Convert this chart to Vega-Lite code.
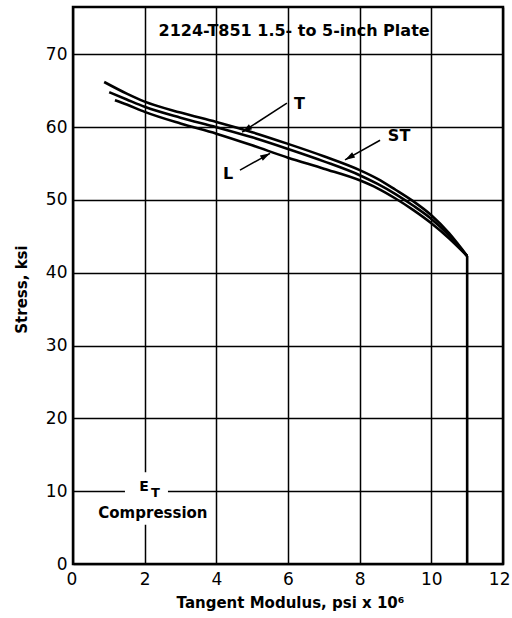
{
  "$schema": "https://vega.github.io/schema/vega-lite/v6.json",
  "width": 430,
  "height": 557,
  "autosize": {"type": "none"},
  "padding": {"left": 73, "top": 7, "right": 9, "bottom": 54},
  "background": "white",
  "config": {
    "view": {"stroke": "black", "strokeWidth": 2.5},
    "text": {"font": "DejaVu Sans", "fontWeight": "bold", "color": "black"},
    "axis": {
      "grid": true, "gridColor": "black", "gridWidth": 1.5, "gridOpacity": 1,
      "domain": false, "ticks": false,
      "labelFont": "DejaVu Sans", "labelFontSize": 17, "labelColor": "black",
      "labelOverlap": false, "labelBound": false,
      "titleFont": "DejaVu Sans", "titleFontWeight": "bold", "titleFontSize": 15, "titleColor": "black"
    },
    "axisX": {
      "labelPadding": 7, "labelFlush": true, "labelFlushOffset": 7,
      "titleX": 217, "titleY": 43, "titleBaseline": "alphabetic", "titleAlign": "center"
    },
    "axisY": {
      "labelPadding": 6, "labelFlush": false,
      "titleX": -47, "titleY": 282, "titleAngle": -90, "titleBaseline": "alphabetic", "titleAlign": "center"
    }
  },
  "datasets": {
    "curves": [
      {"dir": "ST", "x": 0.87, "y": 66.2}, {"dir": "ST", "x": 1.5, "y": 64.6}, {"dir": "ST", "x": 2, "y": 63.5},
      {"dir": "ST", "x": 3, "y": 62.0}, {"dir": "ST", "x": 4, "y": 60.7}, {"dir": "ST", "x": 5, "y": 59.3},
      {"dir": "ST", "x": 6, "y": 57.7}, {"dir": "ST", "x": 7, "y": 56.0}, {"dir": "ST", "x": 8, "y": 54.1},
      {"dir": "ST", "x": 8.5, "y": 52.9}, {"dir": "ST", "x": 9, "y": 51.4}, {"dir": "ST", "x": 9.5, "y": 49.8},
      {"dir": "ST", "x": 10, "y": 47.9}, {"dir": "ST", "x": 10.5, "y": 45.4}, {"dir": "ST", "x": 11, "y": 42.3},
      {"dir": "T", "x": 1.01, "y": 64.8}, {"dir": "T", "x": 1.5, "y": 63.8}, {"dir": "T", "x": 2, "y": 62.8},
      {"dir": "T", "x": 3, "y": 61.3}, {"dir": "T", "x": 4, "y": 60.0}, {"dir": "T", "x": 5, "y": 58.6},
      {"dir": "T", "x": 6, "y": 57.0}, {"dir": "T", "x": 7, "y": 55.3}, {"dir": "T", "x": 8, "y": 53.4},
      {"dir": "T", "x": 8.5, "y": 52.2}, {"dir": "T", "x": 9, "y": 50.8}, {"dir": "T", "x": 9.5, "y": 49.2},
      {"dir": "T", "x": 10, "y": 47.4}, {"dir": "T", "x": 10.5, "y": 45.1}, {"dir": "T", "x": 11, "y": 42.3},
      {"dir": "L", "x": 1.17, "y": 63.7}, {"dir": "L", "x": 1.5, "y": 63.1}, {"dir": "L", "x": 2, "y": 62.1},
      {"dir": "L", "x": 3, "y": 60.5}, {"dir": "L", "x": 4, "y": 59.1}, {"dir": "L", "x": 5, "y": 57.5},
      {"dir": "L", "x": 6, "y": 55.8}, {"dir": "L", "x": 7, "y": 54.3}, {"dir": "L", "x": 8, "y": 52.7},
      {"dir": "L", "x": 8.5, "y": 51.6}, {"dir": "L", "x": 9, "y": 50.2}, {"dir": "L", "x": 9.5, "y": 48.6},
      {"dir": "L", "x": 10, "y": 46.8}, {"dir": "L", "x": 10.5, "y": 44.7}, {"dir": "L", "x": 11, "y": 42.3}
    ],
    "vertical": [{"x": 11, "y": 0, "y2": 42.3}],
    "boxes": [
      {"x1": 1.45, "x2": 2.65, "y1": 8.8, "y2": 12.6},
      {"x1": 0.7, "x2": 3.8, "y1": 5.4, "y2": 8.8}
    ],
    "labels": [
      {"kind": "title", "text": "2124-T851 1.5- to 5-inch Plate", "x": 6.17, "y": 73.2},
      {"kind": "curve", "text": "T", "x": 6.32, "y": 63.2},
      {"kind": "curve", "text": "ST", "x": 9.1, "y": 58.8},
      {"kind": "curve", "text": "L", "x": 4.33, "y": 53.6},
      {"kind": "note", "text": "Compression", "x": 2.23, "y": 7.07},
      {"kind": "E", "text": "E", "x": 1.98, "y": 10.6},
      {"kind": "sub", "text": "T", "x": 2.3, "y": 9.8}
    ],
    "arrows": [
      {"label": "T", "x": 5.97, "y": 63.3, "xe": 4.72, "ye": 59.3},
      {"label": "ST", "x": 8.57, "y": 58.2, "xe": 7.59, "ye": 55.5},
      {"label": "L", "x": 4.66, "y": 54.1, "xe": 5.5, "ye": 56.4}
    ]
  },
  "layer": [
    {
      "data": {"name": "curves"},
      "mark": {"type": "line", "color": "black", "strokeWidth": 2.6, "interpolate": "monotone"},
      "encoding": {
        "x": {"field": "x", "type": "quantitative", "scale": {"domain": [0, 12], "nice": false}, "title": "Tangent Modulus, psi x 10⁶", "axis": {"values": [0, 2, 4, 6, 8, 10, 12]}},
        "y": {"field": "y", "type": "quantitative", "scale": {"domain": [0, 76.5], "nice": false}, "title": "Stress, ksi", "axis": {"values": [0, 10, 20, 30, 40, 50, 60, 70]}},
        "detail": {"field": "dir", "type": "nominal"}
      }
    },
    {
      "data": {"name": "vertical"},
      "mark": {"type": "rule", "color": "black", "strokeWidth": 2.6},
      "encoding": {
        "x": {"field": "x", "type": "quantitative", "scale": {"domain": [0, 12], "nice": false}, "title": "Tangent Modulus, psi x 10⁶", "axis": {"values": [0, 2, 4, 6, 8, 10, 12]}},
        "y": {"field": "y", "type": "quantitative", "scale": {"domain": [0, 76.5], "nice": false}, "title": "Stress, ksi", "axis": {"values": [0, 10, 20, 30, 40, 50, 60, 70]}},
        "y2": {"field": "y2"}
      }
    },
    {
      "data": {"name": "boxes"},
      "mark": {"type": "rect", "color": "white"},
      "encoding": {
        "x": {"field": "x1", "type": "quantitative", "scale": {"domain": [0, 12], "nice": false}, "title": "Tangent Modulus, psi x 10⁶", "axis": {"values": [0, 2, 4, 6, 8, 10, 12]}},
        "x2": {"field": "x2"},
        "y": {"field": "y1", "type": "quantitative", "scale": {"domain": [0, 76.5], "nice": false}, "title": "Stress, ksi", "axis": {"values": [0, 10, 20, 30, 40, 50, 60, 70]}},
        "y2": {"field": "y2"}
      }
    },
    {
      "data": {"name": "arrows"},
      "mark": {"type": "rule", "color": "black", "strokeWidth": 1.5},
      "encoding": {
        "x": {"field": "x", "type": "quantitative", "scale": {"domain": [0, 12], "nice": false}, "title": "Tangent Modulus, psi x 10⁶", "axis": {"values": [0, 2, 4, 6, 8, 10, 12]}},
        "x2": {"field": "xe"},
        "y": {"field": "y", "type": "quantitative", "scale": {"domain": [0, 76.5], "nice": false}, "title": "Stress, ksi", "axis": {"values": [0, 10, 20, 30, 40, 50, 60, 70]}},
        "y2": {"field": "ye"}
      }
    },
    {
      "data": {"name": "arrows"},
      "transform": [{"filter": "datum.label === 'T'"}],
      "mark": {"type": "point", "shape": "M0,0L0.6,2L-0.6,2Z", "filled": true, "color": "black", "opacity": 1, "size": 100, "angle": 237, "strokeWidth": 0},
      "encoding": {
        "x": {"field": "xe", "type": "quantitative", "scale": {"domain": [0, 12], "nice": false}, "title": "Tangent Modulus, psi x 10⁶", "axis": {"values": [0, 2, 4, 6, 8, 10, 12]}},
        "y": {"field": "ye", "type": "quantitative", "scale": {"domain": [0, 76.5], "nice": false}, "title": "Stress, ksi", "axis": {"values": [0, 10, 20, 30, 40, 50, 60, 70]}}
      }
    },
    {
      "data": {"name": "arrows"},
      "transform": [{"filter": "datum.label === 'ST'"}],
      "mark": {"type": "point", "shape": "M0,0L0.6,2L-0.6,2Z", "filled": true, "color": "black", "opacity": 1, "size": 100, "angle": 240, "strokeWidth": 0},
      "encoding": {
        "x": {"field": "xe", "type": "quantitative", "scale": {"domain": [0, 12], "nice": false}, "title": "Tangent Modulus, psi x 10⁶", "axis": {"values": [0, 2, 4, 6, 8, 10, 12]}},
        "y": {"field": "ye", "type": "quantitative", "scale": {"domain": [0, 76.5], "nice": false}, "title": "Stress, ksi", "axis": {"values": [0, 10, 20, 30, 40, 50, 60, 70]}}
      }
    },
    {
      "data": {"name": "arrows"},
      "transform": [{"filter": "datum.label === 'L'"}],
      "mark": {"type": "point", "shape": "M0,0L0.6,2L-0.6,2Z", "filled": true, "color": "black", "opacity": 1, "size": 100, "angle": 61, "strokeWidth": 0},
      "encoding": {
        "x": {"field": "xe", "type": "quantitative", "scale": {"domain": [0, 12], "nice": false}, "title": "Tangent Modulus, psi x 10⁶", "axis": {"values": [0, 2, 4, 6, 8, 10, 12]}},
        "y": {"field": "ye", "type": "quantitative", "scale": {"domain": [0, 76.5], "nice": false}, "title": "Stress, ksi", "axis": {"values": [0, 10, 20, 30, 40, 50, 60, 70]}}
      }
    },
    {
      "data": {"name": "labels"},
      "transform": [{"filter": "datum.kind === 'title' || datum.kind === 'curve'"}],
      "mark": {"type": "text", "fontSize": 16, "align": "center", "baseline": "middle"},
      "encoding": {
        "x": {"field": "x", "type": "quantitative", "scale": {"domain": [0, 12], "nice": false}, "title": "Tangent Modulus, psi x 10⁶", "axis": {"values": [0, 2, 4, 6, 8, 10, 12]}},
        "y": {"field": "y", "type": "quantitative", "scale": {"domain": [0, 76.5], "nice": false}, "title": "Stress, ksi", "axis": {"values": [0, 10, 20, 30, 40, 50, 60, 70]}},
        "text": {"field": "text"}
      }
    },
    {
      "data": {"name": "labels"},
      "transform": [{"filter": "datum.kind === 'note'"}],
      "mark": {"type": "text", "fontSize": 15, "align": "center", "baseline": "middle"},
      "encoding": {
        "x": {"field": "x", "type": "quantitative", "scale": {"domain": [0, 12], "nice": false}, "title": "Tangent Modulus, psi x 10⁶", "axis": {"values": [0, 2, 4, 6, 8, 10, 12]}},
        "y": {"field": "y", "type": "quantitative", "scale": {"domain": [0, 76.5], "nice": false}, "title": "Stress, ksi", "axis": {"values": [0, 10, 20, 30, 40, 50, 60, 70]}},
        "text": {"field": "text"}
      }
    },
    {
      "data": {"name": "labels"},
      "transform": [{"filter": "datum.kind === 'E'"}],
      "mark": {"type": "text", "fontSize": 14, "align": "center", "baseline": "middle"},
      "encoding": {
        "x": {"field": "x", "type": "quantitative", "scale": {"domain": [0, 12], "nice": false}, "title": "Tangent Modulus, psi x 10⁶", "axis": {"values": [0, 2, 4, 6, 8, 10, 12]}},
        "y": {"field": "y", "type": "quantitative", "scale": {"domain": [0, 76.5], "nice": false}, "title": "Stress, ksi", "axis": {"values": [0, 10, 20, 30, 40, 50, 60, 70]}},
        "text": {"field": "text"}
      }
    },
    {
      "data": {"name": "labels"},
      "transform": [{"filter": "datum.kind === 'sub'"}],
      "mark": {"type": "text", "fontSize": 13, "align": "center", "baseline": "middle"},
      "encoding": {
        "x": {"field": "x", "type": "quantitative", "scale": {"domain": [0, 12], "nice": false}, "title": "Tangent Modulus, psi x 10⁶", "axis": {"values": [0, 2, 4, 6, 8, 10, 12]}},
        "y": {"field": "y", "type": "quantitative", "scale": {"domain": [0, 76.5], "nice": false}, "title": "Stress, ksi", "axis": {"values": [0, 10, 20, 30, 40, 50, 60, 70]}},
        "text": {"field": "text"}
      }
    }
  ]
}
